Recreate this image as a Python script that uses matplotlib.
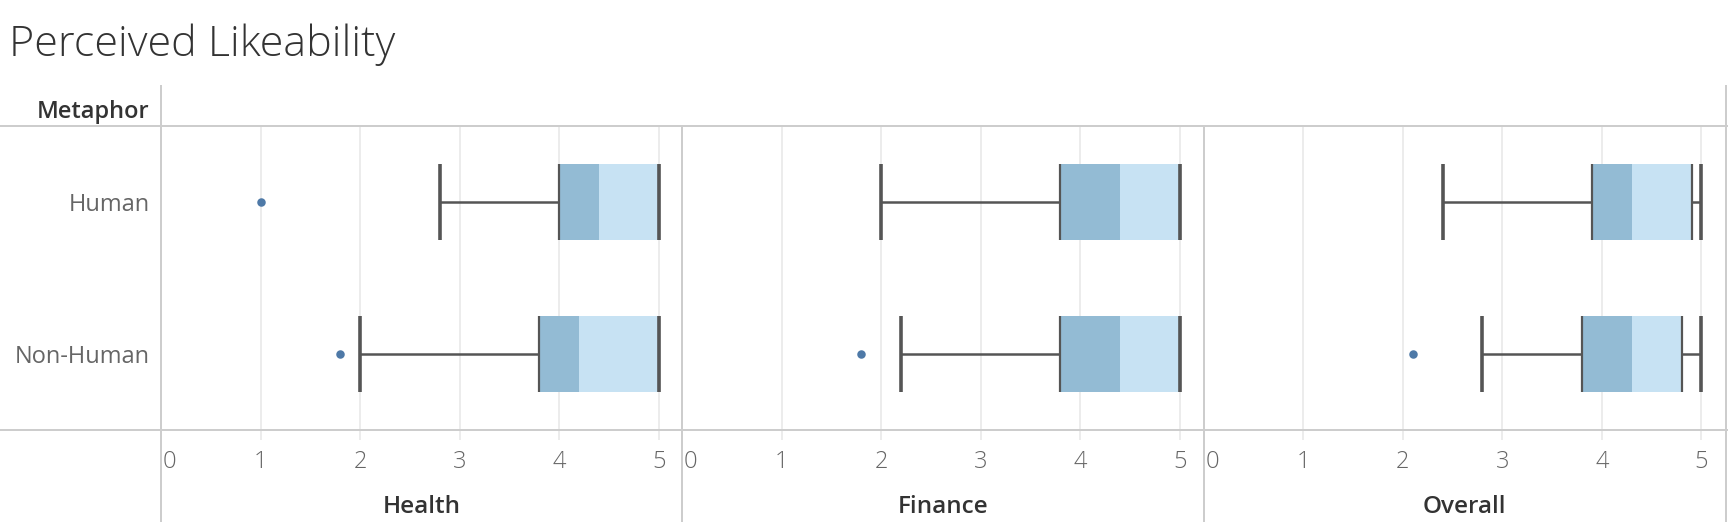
import matplotlib
matplotlib.use("Agg")
import matplotlib.pyplot as plt
from matplotlib.lines import Line2D

# ---------------- data ----------------
panels = ["Health", "Finance", "Overall"]
categories = ["Human", "Non-Human"]
lower_whisker = [[2.8, 2.0], [2.0, 2.2], [2.4, 2.8]]
q1 = [[4.0, 3.8], [3.8, 3.8], [3.9, 3.8]]
median = [[4.4, 4.2], [4.4, 4.4], [4.3, 4.3]]
q3 = [[5.0, 5.0], [5.0, 5.0], [4.9, 4.8]]
upper_whisker = [[5.0, 5.0], [5.0, 5.0], [5.0, 5.0]]
outliers = [[[1.0], [1.8]], [[], [1.8]], [[], [2.1]]]
x_ticks = [0, 1, 2, 3, 4, 5]
title = "Perceived Likeability"
row_header = "Metaphor"

# ---------------- layout ----------------
W, H, DPI = 1730, 522, 100
fig = plt.figure(figsize=(W / DPI, H / DPI), dpi=DPI)
fig.patch.set_facecolor("white")


def fx(px):
    return px / W


def fy(py):
    return 1 - py / H


def pt(px):
    return px * 72 / DPI


FONT = "Open Sans"
BORDER = "#cdcdcd"
GRID = "#ececec"
LINE = "#555555"
DARK = "#93bbd4"
LIGHT = "#c7e2f3"
DOT = "#4e79a7"

panel_edges = [161, 682, 1203.5, 1726]
TOP, BOTTOM = 126, 430
UNIT = 99.6  # pixels per unit on the value axis
BOX_H = 0.5

for i, name in enumerate(panels):
    x0, x1 = panel_edges[i], panel_edges[i + 1]
    ax = fig.add_axes([fx(x0), fy(BOTTOM), (x1 - x0) / W, (BOTTOM - TOP) / H])
    ax.set_xlim(0, (x1 - x0) / UNIT)
    ax.set_ylim(1.5, -0.5)
    for s in ax.spines.values():
        s.set_visible(False)
    ax.set_yticks([])
    ax.set_xticks(x_ticks)
    ax.set_xticklabels([])
    ax.tick_params(axis="x", length=pt(10), width=pt(2), color=GRID, direction="out")
    ax.grid(axis="x", color=GRID, linewidth=pt(2))
    ax.set_axisbelow(True)
    ax.patch.set_alpha(0)

    ys = list(range(len(categories)))
    lo = lower_whisker[i]
    a = q1[i]
    m = median[i]
    b = q3[i]
    hi = upper_whisker[i]
    ax.barh(ys, [m[k] - a[k] for k in ys], left=a, height=BOX_H, color=DARK, zorder=2)
    ax.barh(ys, [b[k] - m[k] for k in ys], left=m, height=BOX_H, color=LIGHT, zorder=2)
    for k in ys:
        y = ys[k]
        ax.hlines(y, lo[k], a[k], color=LINE, linewidth=pt(2.5), zorder=3)
        ax.hlines(y, b[k], hi[k], color=LINE, linewidth=pt(2.5), zorder=3)
        ax.vlines([a[k], b[k]], y - BOX_H / 2, y + BOX_H / 2, color=LINE,
                  linewidth=pt(2.2), zorder=4)
        ax.vlines([lo[k], hi[k]], y - BOX_H / 2, y + BOX_H / 2, color=LINE,
                  linewidth=pt(3.6), zorder=5)
        if outliers[i][k]:
            ax.plot(outliers[i][k], [y] * len(outliers[i][k]), "o", color=DOT,
                    markersize=pt(8.5), markeredgewidth=0, zorder=6)

    # tick labels
    tr = ax.get_xaxis_transform()
    yl = (BOTTOM - 462.5) / (BOTTOM - TOP)
    for t in x_ticks:
        if t == 0:
            ax.text(t + 2 / UNIT, yl, str(t), transform=tr, ha="left", va="center",
                    fontsize=17, color="#666666", family=FONT, fontweight="light")
        else:
            ax.text(t, yl, str(t), transform=tr, ha="center", va="center",
                    fontsize=17, color="#666666", family=FONT, fontweight="light")

    # panel title under axis
    fig.text(fx((x0 + x1) / 2), fy(513), name, ha="center", va="baseline",
             fontsize=17.5, color="#333333", family=FONT, fontweight="semibold")

# row labels
for k, cat in enumerate(categories):
    yc = [202, 354][k]
    fig.text(fx(150), fy(yc), cat, ha="right", va="center_baseline",
             fontsize=17, color="#666666", family=FONT)

# header & title
fig.text(fx(149), fy(118), row_header, ha="right", va="baseline",
         fontsize=17, color="#333333", family=FONT, fontweight="semibold")
fig.text(fx(9), fy(56), title, ha="left", va="baseline",
         fontsize=31, color="#333333", family=FONT, fontweight="light")

# borders
def hline(y, xa, xb):
    fig.add_artist(Line2D([fx(xa), fx(xb)], [fy(y), fy(y)], color=BORDER,
                          linewidth=pt(2), transform=fig.transFigure))


def vline(x, ya, yb):
    fig.add_artist(Line2D([fx(x), fx(x)], [fy(ya), fy(yb)], color=BORDER,
                          linewidth=pt(2), transform=fig.transFigure))


hline(TOP, 0, 1727)
hline(BOTTOM, 0, 1727)
vline(161, 86, 522)
vline(682, TOP, 522)
vline(1203.5, TOP, 522)
vline(1726, 86, 522)

fig.savefig("out.png", dpi=DPI, facecolor="white")
